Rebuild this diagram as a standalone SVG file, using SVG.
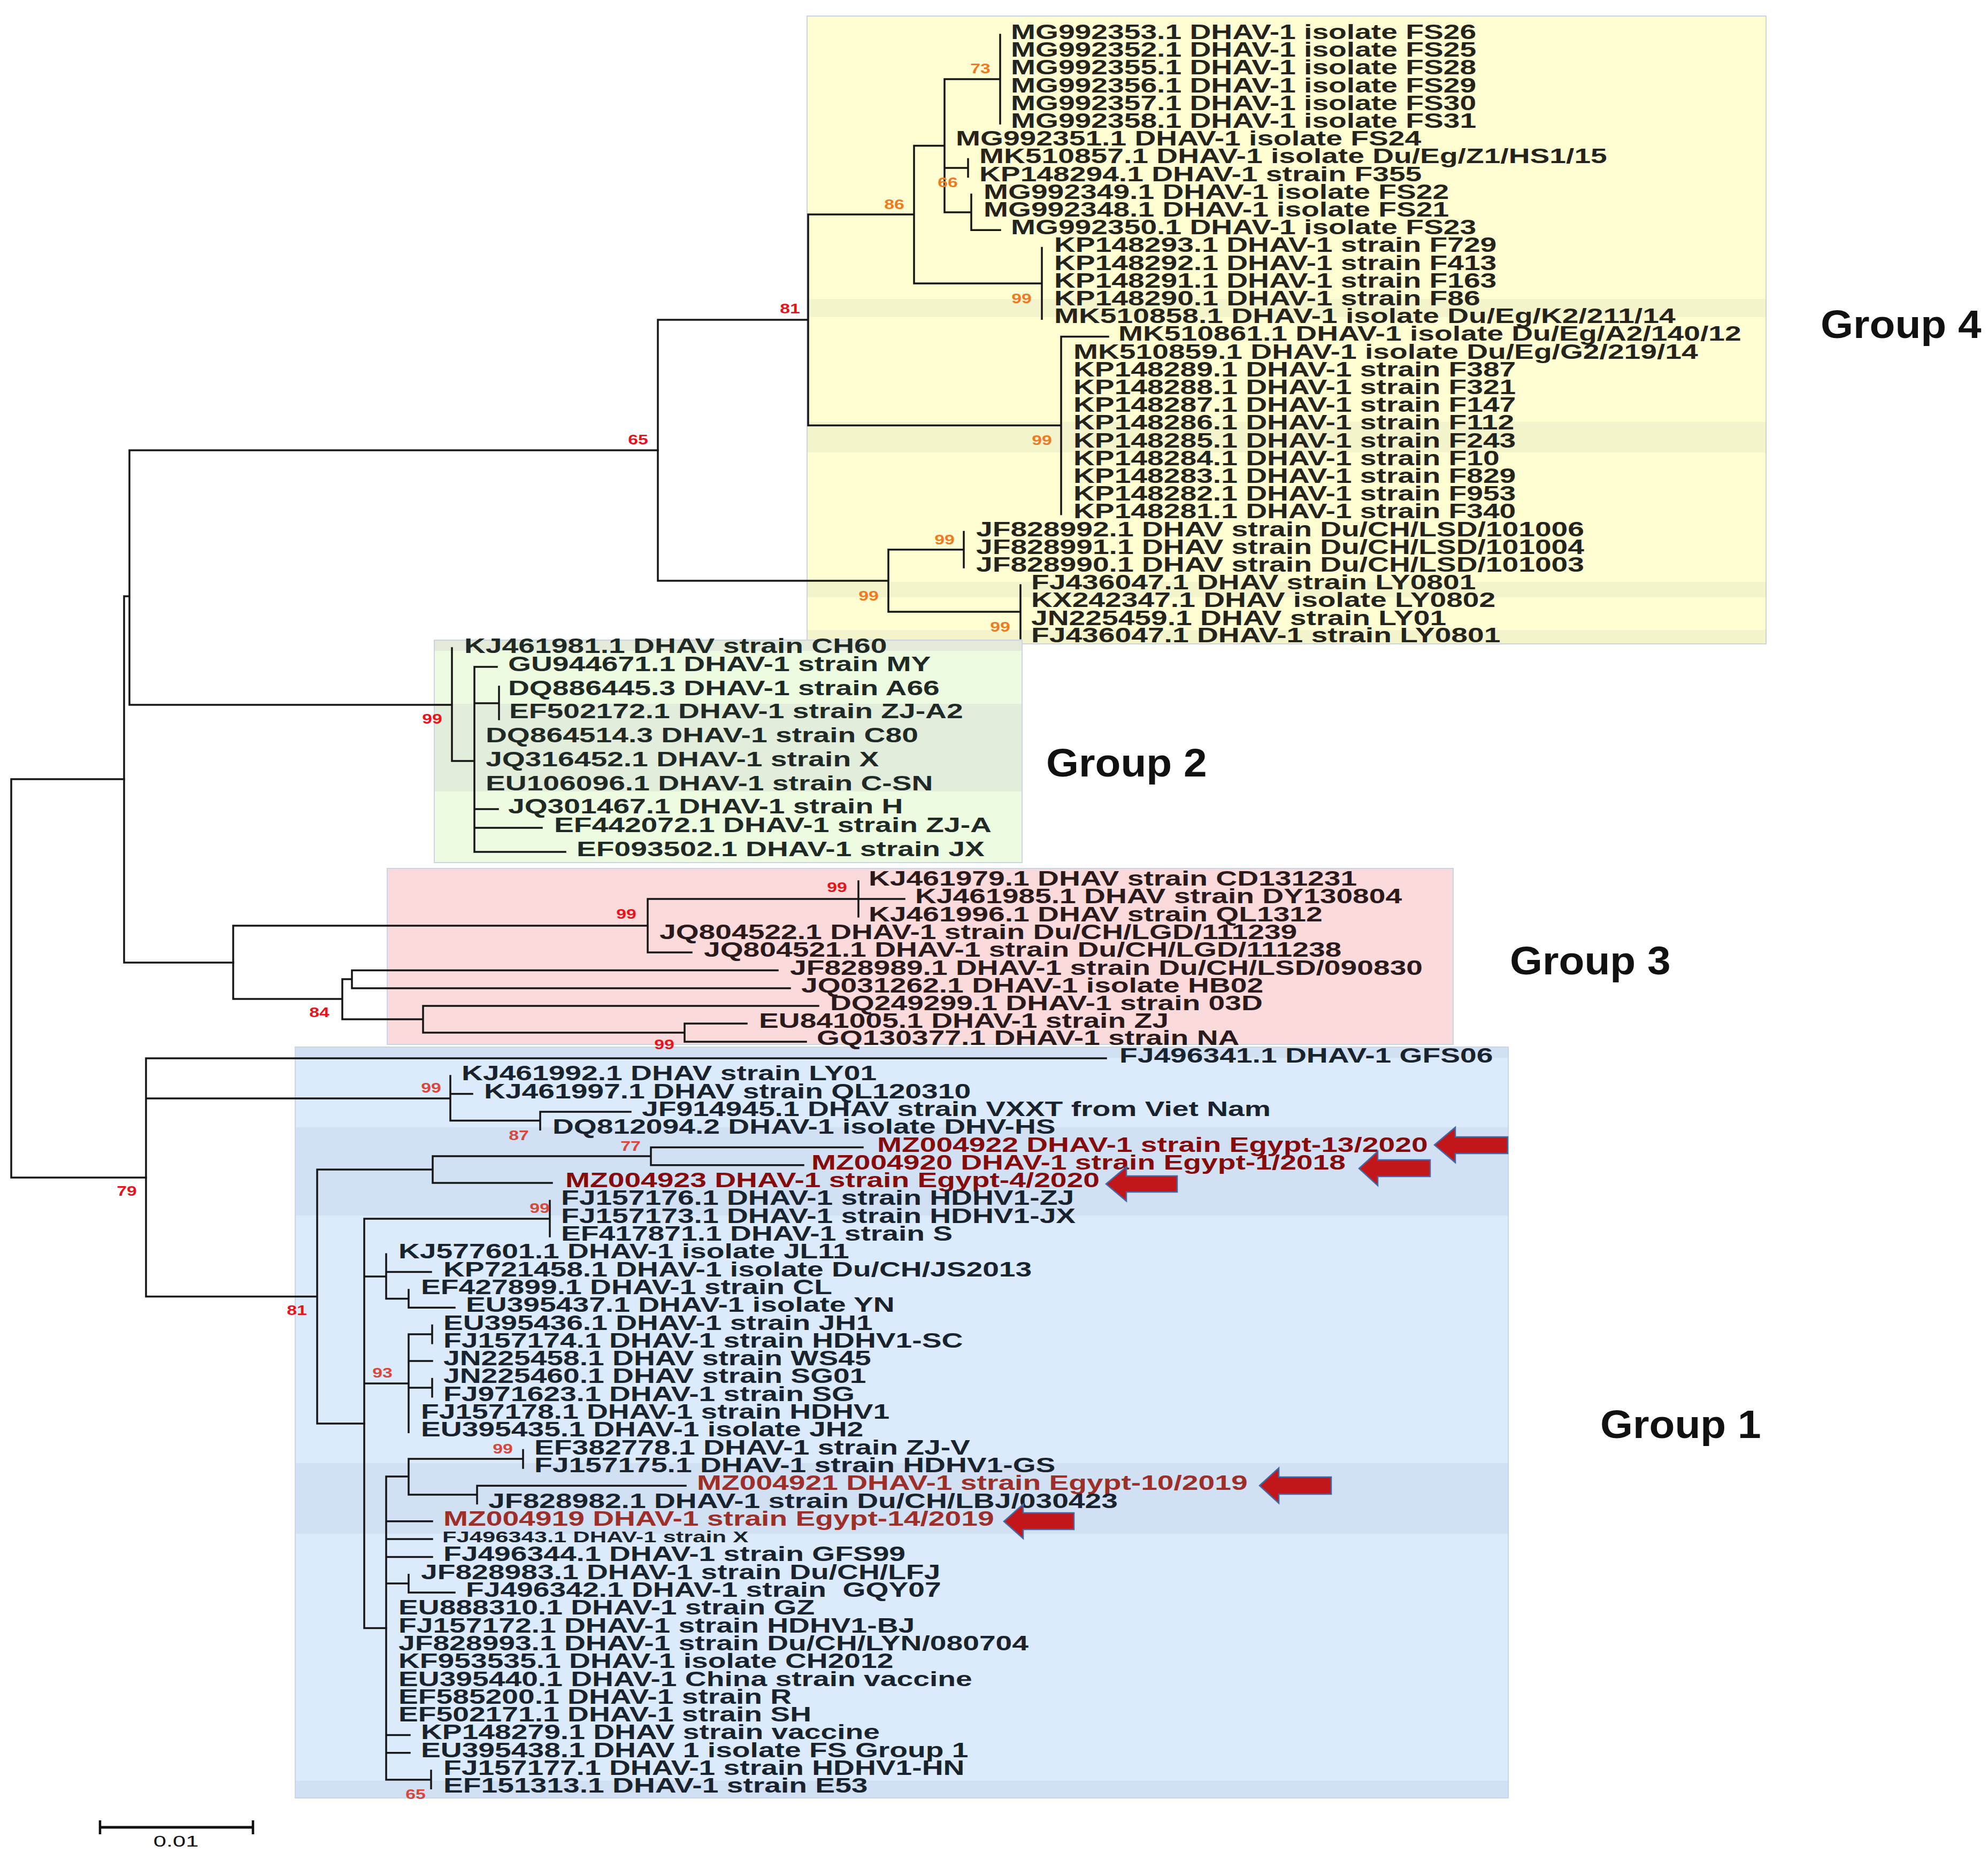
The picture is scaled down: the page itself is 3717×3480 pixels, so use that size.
<svg xmlns="http://www.w3.org/2000/svg" width="3717" height="3480" viewBox="0 0 3717 3480">
<style>
.br{fill:none;stroke:#161616;stroke-width:3.5;stroke-linecap:square}
.lb{font-family:"Liberation Sans",Arial,sans-serif;font-weight:bold;font-size:38px}
.sm{font-size:30px}
.rd{fill:#840c0c}
.rd2{fill:#9c2f2a}
.bs{font-family:"Liberation Sans",Arial,sans-serif;font-weight:bold;font-size:26px;text-anchor:middle}
.or{fill:#f07a22}
.re{fill:#e8141c}
.sa{fill:#d9473c}
.gl{font-family:"Liberation Sans",Arial,sans-serif;font-weight:bold;font-size:74px;fill:#111}
.ar{fill:#c3161b;stroke:#4169a6;stroke-width:2.5}
.box{stroke:#c9d4e6;stroke-width:2}
</style>
<rect width="3717" height="3480" fill="#ffffff"/>
<g id="backgrounds">
<rect class="box" x="1509" y="30" width="1793" height="1174" fill="#fefed2"/>
<rect x="1510" y="559" width="1791" height="34" fill="#f4f4cc"/>
<rect x="1510" y="789" width="1791" height="57" fill="#f4f4cc"/>
<rect x="1510" y="1088" width="1791" height="29" fill="#f4f4cc"/>
<rect x="1510" y="1178" width="1791" height="25" fill="#f4f4cc"/>
<rect class="box" x="812" y="1197" width="1099" height="416" fill="#edfbe1"/>
<rect x="813" y="1198" width="1097" height="19" fill="#e3ead9"/>
<rect x="813" y="1316" width="1097" height="164" fill="#e3eddb"/>
<rect class="box" x="724" y="1624" width="1993" height="329" fill="#fbdadb"/>
<rect class="box" x="552" y="1958" width="2268" height="1404" fill="#dcebfc"/>
<rect x="553" y="1959" width="2266" height="19" fill="#d2e0f4"/>
<rect x="553" y="2108" width="2266" height="165" fill="#d2e0f4"/>
<rect x="553" y="2736" width="2266" height="132" fill="#d2e0f4"/>
<rect x="553" y="3330" width="2266" height="31" fill="#d2e0f4"/>
</g>
<g id="connectors" class="br">
<path d="M1870 65V231M1766 148H1870M1766 148V397M1766 314H1810M1766 397H1816M1810 297.4V330.6M1816 363.8V430.2M1816 430.2H1870M1948 463.4V596.2M1709 272.5V530M1709 272.5H1766M1709 530H1948M1984 629.4V961.4M1984 629.4H2072M1511 401V795.4M1511 401H1709M1511 795.4H1984M1802 994.6V1061M1908 1094.2V1193.8M1661 1027.8V1144M1661 1027.8H1802M1661 1144H1908M1230 598V1086M1230 598H1511M1230 1086H1661"/>
<path d="M845 1212V1423M845 1423H887M887 1247V1593M887 1247H929M887 1315H933M887 1513H931M887 1548H1013M887 1593H1057M933 1284V1345M242 842V1318M242 842H1230M242 1318H845M232 1115H242M232 1115V1800M232 1800H436"/>
<path d="M436 1731V1868M436 1731H1211M436 1868H640M1211 1681V1781M1211 1681H1691M1211 1781H1293M1605 1648V1714M640 1831V1906M640 1831H658M640 1906H791M658 1814.5V1848M658 1814.5H1454M658 1848H1477M791 1881V1931M791 1881H1530M791 1931H1280M1280 1914V1948M1280 1914H1396M1280 1948H1507"/>
<path d="M21 1457V2202M21 1457H232M21 2202H273"/>
<path d="M273 1979V2424.5M273 1979H2068M273 2054H842M273 2424.5H593M842 2012V2095.5M842 2045.6H883M842 2095.5H1010M1010 2078.9V2112.2M1010 2078.9H1179M593 2187V2662M593 2187H809M593 2662H681M809 2162V2212M809 2162H1217M809 2212H1032M1217 2145.5V2178.8M1217 2145.5H1613M1217 2178.8H1502"/>
<path d="M681 2279V3044.5M681 2279H1028M681 2387H722M681 2587H764M681 3044.5H722M1028 2245.4V2312M722 2345.3V2428.5M722 2378.6H806M722 2428.5H764M764 2411.9V2445.2M764 2445.2H850M764 2495V2678.3M764 2495H808M764 2545.1H808M764 2595H808M808 2478.5V2511.8M808 2578.4V2611.7"/>
<path d="M722 2761V3328M722 2761H764M722 2844.8H808M722 2878.1H808M722 2911.4H808M722 2961H764M722 3244.4H766M722 3277.7H766M722 3328H806M764 2728V2795M764 2728H978M764 2795H892M978 2711.6V2744.9M892 2778.2V2811.5M892 2778.2H1282M764 2944.7V2978M764 2978H850M806 3311V3344.3"/>
</g>
<g id="group4" class="lb" fill="#24241c">
<text transform="translate(1890 73) scale(1.453 1)">MG992353.1 DHAV-1 isolate FS26</text>
<text transform="translate(1890 106) scale(1.453 1)">MG992352.1 DHAV-1 isolate FS25</text>
<text transform="translate(1890 139) scale(1.453 1)">MG992355.1 DHAV-1 isolate FS28</text>
<text transform="translate(1890 173) scale(1.453 1)">MG992356.1 DHAV-1 isolate FS29</text>
<text transform="translate(1890 206) scale(1.453 1)">MG992357.1 DHAV-1 isolate FS30</text>
<text transform="translate(1890 239) scale(1.453 1)">MG992358.1 DHAV-1 isolate FS31</text>
<text transform="translate(1787 272) scale(1.453 1)">MG992351.1 DHAV-1 isolate FS24</text>
<text transform="translate(1831 305) scale(1.453 1)">MK510857.1 DHAV-1 isolate Du/Eg/Z1/HS1/15</text>
<text transform="translate(1831 339) scale(1.453 1)">KP148294.1 DHAV-1 strain F355</text>
<text transform="translate(1839 372) scale(1.453 1)">MG992349.1 DHAV-1 isolate FS22</text>
<text transform="translate(1839 405) scale(1.453 1)">MG992348.1 DHAV-1 isolate FS21</text>
<text transform="translate(1890 438) scale(1.453 1)">MG992350.1 DHAV-1 isolate FS23</text>
<text transform="translate(1971 471) scale(1.453 1)">KP148293.1 DHAV-1 strain F729</text>
<text transform="translate(1971 505) scale(1.453 1)">KP148292.1 DHAV-1 strain F413</text>
<text transform="translate(1971 538) scale(1.453 1)">KP148291.1 DHAV-1 strain F163</text>
<text transform="translate(1971 571) scale(1.453 1)">KP148290.1 DHAV-1 strain F86</text>
<text transform="translate(1971 604) scale(1.453 1)">MK510858.1 DHAV-1 isolate Du/Eg/K2/211/14</text>
<text transform="translate(2091 637) scale(1.453 1)">MK510861.1 DHAV-1 isolate Du/Eg/A2/140/12</text>
<text transform="translate(2007 671) scale(1.453 1)">MK510859.1 DHAV-1 isolate Du/Eg/G2/219/14</text>
<text transform="translate(2007 704) scale(1.453 1)">KP148289.1 DHAV-1 strain F387</text>
<text transform="translate(2007 737) scale(1.453 1)">KP148288.1 DHAV-1 strain F321</text>
<text transform="translate(2007 770) scale(1.453 1)">KP148287.1 DHAV-1 strain F147</text>
<text transform="translate(2007 803) scale(1.453 1)">KP148286.1 DHAV-1 strain F112</text>
<text transform="translate(2007 837) scale(1.453 1)">KP148285.1 DHAV-1 strain F243</text>
<text transform="translate(2007 870) scale(1.453 1)">KP148284.1 DHAV-1 strain F10</text>
<text transform="translate(2007 903) scale(1.453 1)">KP148283.1 DHAV-1 strain F829</text>
<text transform="translate(2007 936) scale(1.453 1)">KP148282.1 DHAV-1 strain F953</text>
<text transform="translate(2007 969) scale(1.453 1)">KP148281.1 DHAV-1 strain F340</text>
<text transform="translate(1825 1003) scale(1.453 1)">JF828992.1 DHAV strain Du/CH/LSD/101006</text>
<text transform="translate(1825 1036) scale(1.453 1)">JF828991.1 DHAV strain Du/CH/LSD/101004</text>
<text transform="translate(1825 1069) scale(1.453 1)">JF828990.1 DHAV strain Du/CH/LSD/101003</text>
<text transform="translate(1928 1102) scale(1.453 1)">FJ436047.1 DHAV strain LY0801</text>
<text transform="translate(1928 1135) scale(1.453 1)">KX242347.1 DHAV isolate LY0802</text>
<text transform="translate(1928 1169) scale(1.453 1)">JN225459.1 DHAV strain LY01</text>
<text transform="translate(1928 1201) scale(1.453 1)">FJ436047.1 DHAV-1 strain LY0801</text>
</g>
<g id="group2" class="lb" fill="#1f2a26">
<text transform="translate(868 1221) scale(1.453 1)">KJ461981.1 DHAV strain CH60</text>
<text transform="translate(950 1255) scale(1.453 1)">GU944671.1 DHAV-1 strain MY</text>
<text transform="translate(950 1300) scale(1.453 1)">DQ886445.3 DHAV-1 strain A66</text>
<text transform="translate(952 1343) scale(1.453 1)">EF502172.1 DHAV-1 strain ZJ-A2</text>
<text transform="translate(908 1388) scale(1.453 1)">DQ864514.3 DHAV-1 strain C80</text>
<text transform="translate(908 1433) scale(1.453 1)">JQ316452.1 DHAV-1 strain X</text>
<text transform="translate(908 1478) scale(1.453 1)">EU106096.1 DHAV-1 strain C-SN</text>
<text transform="translate(950 1521) scale(1.453 1)">JQ301467.1 DHAV-1 strain H</text>
<text transform="translate(1036 1556) scale(1.453 1)">EF442072.1 DHAV-1 strain ZJ-A</text>
<text transform="translate(1078 1601) scale(1.453 1)">EF093502.1 DHAV-1 strain JX</text>
</g>
<g id="group3" class="lb" fill="#2a1a1c">
<text transform="translate(1624 1656) scale(1.453 1)">KJ461979.1 DHAV strain CD131231</text>
<text transform="translate(1711 1689) scale(1.453 1)">KJ461985.1 DHAV strain DY130804</text>
<text transform="translate(1624 1723) scale(1.453 1)">KJ461996.1 DHAV strain QL1312</text>
<text transform="translate(1233 1756) scale(1.453 1)">JQ804522.1 DHAV-1 strain Du/CH/LGD/111239</text>
<text transform="translate(1316 1789) scale(1.453 1)">JQ804521.1 DHAV-1 strain Du/CH/LGD/111238</text>
<text transform="translate(1477 1823) scale(1.453 1)">JF828989.1 DHAV-1 strain Du/CH/LSD/090830</text>
<text transform="translate(1498 1856) scale(1.453 1)">JQ031262.1 DHAV-1 isolate HB02</text>
<text transform="translate(1552 1889) scale(1.453 1)">DQ249299.1 DHAV-1 strain 03D</text>
<text transform="translate(1419 1922) scale(1.453 1)">EU841005.1 DHAV-1 strain ZJ</text>
<text transform="translate(1527 1954) scale(1.453 1)">GQ130377.1 DHAV-1 strain NA</text>
</g>
<g id="group1" class="lb" fill="#19232e">
<text transform="translate(2093 1987) scale(1.453 1)">FJ496341.1 DHAV-1 GFS06</text>
<text transform="translate(863 2020) scale(1.453 1)">KJ461992.1 DHAV strain LY01</text>
<text transform="translate(905 2054) scale(1.453 1)">KJ461997.1 DHAV strain QL120310</text>
<text transform="translate(1200 2087) scale(1.453 1)">JF914945.1 DHAV strain VXXT from Viet Nam</text>
<text transform="translate(1033 2120) scale(1.453 1)">DQ812094.2 DHAV-1 isolate DHV-HS</text>
<text class="rd" transform="translate(1640 2154) scale(1.453 1)">MZ004922 DHAV-1 strain Egypt-13/2020</text>
<text class="rd" transform="translate(1517 2187) scale(1.453 1)">MZ004920 DHAV-1 strain Egypt-1/2018</text>
<text class="rd" transform="translate(1057 2220) scale(1.453 1)">MZ004923 DHAV-1 strain Egypt-4/2020</text>
<text transform="translate(1049 2253) scale(1.453 1)">FJ157176.1 DHAV-1 strain HDHV1-ZJ</text>
<text transform="translate(1049 2287) scale(1.453 1)">FJ157173.1 DHAV-1 strain HDHV1-JX</text>
<text transform="translate(1049 2320) scale(1.453 1)">EF417871.1 DHAV-1 strain S</text>
<text transform="translate(745 2353) scale(1.453 1)">KJ577601.1 DHAV-1 isolate JL11</text>
<text transform="translate(829 2387) scale(1.453 1)">KP721458.1 DHAV-1 isolate Du/CH/JS2013</text>
<text transform="translate(787 2420) scale(1.453 1)">EF427899.1 DHAV-1 strain CL</text>
<text transform="translate(871 2453) scale(1.453 1)">EU395437.1 DHAV-1 isolate YN</text>
<text transform="translate(829 2487) scale(1.453 1)">EU395436.1 DHAV-1 strain JH1</text>
<text transform="translate(829 2520) scale(1.453 1)">FJ157174.1 DHAV-1 strain HDHV1-SC</text>
<text transform="translate(829 2553) scale(1.453 1)">JN225458.1 DHAV strain WS45</text>
<text transform="translate(829 2586) scale(1.453 1)">JN225460.1 DHAV strain SG01</text>
<text transform="translate(829 2620) scale(1.453 1)">FJ971623.1 DHAV-1 strain SG</text>
<text transform="translate(787 2653) scale(1.453 1)">FJ157178.1 DHAV-1 strain HDHV1</text>
<text transform="translate(787 2686) scale(1.453 1)">EU395435.1 DHAV-1 isolate JH2</text>
<text transform="translate(999 2720) scale(1.453 1)">EF382778.1 DHAV-1 strain ZJ-V</text>
<text transform="translate(999 2753) scale(1.453 1)">FJ157175.1 DHAV-1 strain HDHV1-GS</text>
<text class="rd2" transform="translate(1303 2786) scale(1.453 1)">MZ004921 DHAV-1 strain Egypt-10/2019</text>
<text transform="translate(913 2820) scale(1.453 1)">JF828982.1 DHAV-1 strain Du/CH/LBJ/030423</text>
<text class="rd2" transform="translate(829 2853) scale(1.453 1)">MZ004919 DHAV-1 strain Egypt-14/2019</text>
<text class="sm" transform="translate(827 2884) scale(1.45 1)">FJ496343.1 DHAV-1 strain X</text>
<text transform="translate(829 2919) scale(1.453 1)">FJ496344.1 DHAV-1 strain GFS99</text>
<text transform="translate(787 2953) scale(1.453 1)">JF828983.1 DHAV-1 strain Du/CH/LFJ</text>
<text transform="translate(871 2986) scale(1.453 1)" style="white-space:pre">FJ496342.1 DHAV-1 strain  GQY07</text>
<text transform="translate(745 3019) scale(1.453 1)">EU888310.1 DHAV-1 strain GZ</text>
<text transform="translate(745 3053) scale(1.453 1)">FJ157172.1 DHAV-1 strain HDHV1-BJ</text>
<text transform="translate(745 3086) scale(1.453 1)">JF828993.1 DHAV-1 strain Du/CH/LYN/080704</text>
<text transform="translate(745 3119) scale(1.453 1)">KF953535.1 DHAV-1 isolate CH2012</text>
<text transform="translate(745 3153) scale(1.453 1)">EU395440.1 DHAV-1 China strain vaccine</text>
<text transform="translate(745 3186) scale(1.453 1)">EF585200.1 DHAV-1 strain R</text>
<text transform="translate(745 3219) scale(1.453 1)">EF502171.1 DHAV-1 strain SH</text>
<text transform="translate(787 3252) scale(1.453 1)">KP148279.1 DHAV strain vaccine</text>
<text transform="translate(787 3286) scale(1.453 1)">EU395438.1 DHAV 1 isolate FS Group 1</text>
<text transform="translate(829 3319) scale(1.453 1)">FJ157177.1 DHAV-1 strain HDHV1-HN</text>
<text transform="translate(829 3352) scale(1.453 1)">EF151313.1 DHAV-1 strain E53</text>
</g>
<g id="bootstrap" class="bs">
<text class="or" transform="translate(1833 136.5) scale(1.3 1)">73</text>
<text class="or" transform="translate(1772 349.5) scale(1.3 1)">66</text>
<text class="or" transform="translate(1672 390.5) scale(1.3 1)">86</text>
<text class="or" transform="translate(1910 566.5) scale(1.3 1)">99</text>
<text class="re" transform="translate(1477 585.5) scale(1.3 1)">81</text>
<text class="or" transform="translate(1948 831.5) scale(1.3 1)">99</text>
<text class="re" transform="translate(1193 830.5) scale(1.3 1)">65</text>
<text class="or" transform="translate(1766 1017.5) scale(1.3 1)">99</text>
<text class="or" transform="translate(1624 1122.5) scale(1.3 1)">99</text>
<text class="or" transform="translate(1870 1180.5) scale(1.3 1)">99</text>
<text class="re" transform="translate(808 1352.5) scale(1.3 1)">99</text>
<text class="re" transform="translate(1565 1667.5) scale(1.3 1)">99</text>
<text class="re" transform="translate(1171 1717.5) scale(1.3 1)">99</text>
<text class="re" transform="translate(597 1901.5) scale(1.3 1)">84</text>
<text class="re" transform="translate(1242 1961.5) scale(1.3 1)">99</text>
<text class="sa" transform="translate(806 2042.5) scale(1.3 1)">99</text>
<text class="sa" transform="translate(970 2131.5) scale(1.3 1)">87</text>
<text class="re" transform="translate(237 2235.5) scale(1.3 1)">79</text>
<text class="sa" transform="translate(1179 2151.5) scale(1.3 1)">77</text>
<text class="re" transform="translate(555 2458.5) scale(1.3 1)">81</text>
<text class="sa" transform="translate(1009 2267.5) scale(1.3 1)">99</text>
<text class="sa" transform="translate(715 2575.5) scale(1.3 1)">93</text>
<text class="sa" transform="translate(940 2717.5) scale(1.3 1)">99</text>
<text class="sa" transform="translate(777 3363.5) scale(1.3 1)">65</text>
</g>
<g id="group-labels" class="gl">
<text id="label-group4" transform="translate(3404 632) scale(1.06 1)">Group 4</text>
<text id="label-group2" transform="translate(1956 1452) scale(1.06 1)">Group 2</text>
<text id="label-group3" transform="translate(2823 1822) scale(1.06 1)">Group 3</text>
<text id="label-group1" transform="translate(2992 2689) scale(1.06 1)">Group 1</text>
</g>
<g id="arrows" class="ar">
<polygon points="2682,2141 2721,2108 2721,2126 2819,2126 2819,2157 2721,2157 2721,2174"/>
<polygon points="2541,2185 2576,2153 2576,2169 2674,2169 2674,2200 2576,2200 2576,2217"/>
<polygon points="2068,2214 2106,2182 2106,2199 2201,2199 2201,2229 2106,2229 2106,2246"/>
<polygon points="2355,2778 2391,2745 2391,2762 2489,2762 2489,2794 2391,2794 2391,2811"/>
<polygon points="1877,2845 1913,2813 1913,2829 2008,2829 2008,2860 1913,2860 1913,2877"/>
</g>
<g id="scale-bar">
<path d="M187 3417H473" fill="none" stroke="#111" stroke-width="5"/>
<path d="M187 3404V3430M473 3404V3430" fill="none" stroke="#111" stroke-width="4.5"/>
<text transform="translate(329 3453) scale(1.5 1)" text-anchor="middle" font-family="Liberation Sans, Arial, sans-serif" font-size="29" fill="#111">0.01</text>
</g>
</svg>
